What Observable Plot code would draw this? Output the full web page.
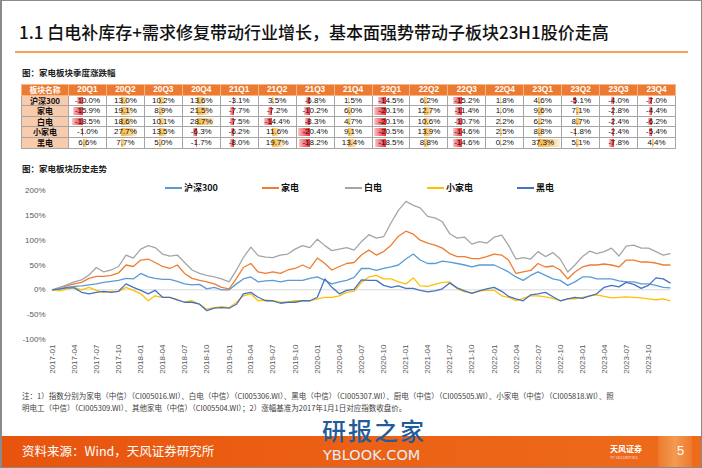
<!DOCTYPE html>
<html><head><meta charset="utf-8">
<script src="https://cdn.jsdelivr.net/npm/d3@7"></script>
<script src="https://cdn.jsdelivr.net/npm/@observablehq/plot@0.6"></script>
<style>
html,body{margin:0;padding:0;background:#fff;}
#page{position:relative;width:702px;height:468px;overflow:hidden;font-family:"Noto Sans CJK SC","Noto Sans",sans-serif;background:#fff;}
.abs{position:absolute;white-space:nowrap;}
#frame{position:absolute;left:0;top:0;width:702px;height:468px;box-sizing:border-box;border:1px solid #8a8a8a;border-left-width:2px;pointer-events:none;}
#title{left:19px;top:22px;font-size:17px;line-height:20px;font-weight:500;color:#111;}
#rule{left:15px;top:51px;width:673px;height:2px;background:#F4A15D;}
.cap{font-size:8.5px;line-height:10px;font-weight:bold;color:#222;}
#tbl{position:absolute;left:21px;top:84px;border-collapse:collapse;table-layout:fixed;width:654px;font-family:"Liberation Sans",Arial,sans-serif;}
#tbl td{border:1px solid #a6a6a6;padding:0;}
#tbl .c{position:relative;height:9.6px;line-height:9.8px;font-size:8px;text-align:center;color:#111;}
#tbl .c span{position:relative;z-index:2;}
#tbl tr.hdr td{background:#EC7A31;border-color:#f3b58a;}
#tbl tr.hdr .c{color:#fff;font-weight:bold;font-size:8.3px;}
#tbl td.rowh{background:#F8CBAD;}
#tbl td.rowh .c{font-weight:bold;font-family:"Noto Sans CJK SC",sans-serif;font-size:8px;line-height:9.6px;}
#tbl tr.hdr td.first .c{font-family:"Noto Sans CJK SC",sans-serif;font-size:7.8px;line-height:9.6px;}
.bar{position:absolute;top:1px;bottom:1px;z-index:1;}
#legend{left:0;top:182px;height:12px;width:702px;}
.lg{position:absolute;top:0;height:12px;font-size:9px;line-height:12px;font-weight:bold;color:#111;white-space:nowrap;}
.lg i{position:absolute;left:0;top:5px;width:17px;height:2px;}
.lg b{position:absolute;left:19px;top:0;font-weight:bold;}
#chart{left:0;top:183px;}
.note{font-size:7.5px;line-height:9px;color:#404040;}
#footer{left:0;top:436px;width:702px;height:32px;background:linear-gradient(to right,#E8540E,#EC6316 60%,#EE6B1B);}
#pgblock{left:658px;top:436px;width:34px;height:32px;background:linear-gradient(to right,#EE7A2C,#F39A52,#EE7A2C);}
#src{left:22px;top:443px;font-size:12.5px;line-height:16px;color:#fff;}
#pg{left:677px;top:443px;font-size:13px;line-height:16px;color:#fff;font-family:"Liberation Sans",Arial,sans-serif;}
#logo{left:610px;top:444px;font-size:8px;line-height:10px;color:#fff;font-weight:bold;}
#logo2{left:610px;top:455px;font-size:4px;line-height:5px;color:#fde;}
#wm1{left:322px;top:418px;font-size:24px;line-height:24px;color:#1F5C99;font-weight:500;letter-spacing:2px;}
#wm2{left:323px;top:448px;font-size:14.5px;line-height:14px;color:#e6eef8;font-family:"DejaVu Sans",sans-serif;}
</style></head>
<body>
<div id="page">
  <div id="title" class="abs">1.1 白电补库存+需求修复带动行业增长，基本面强势带动子板块23H1股价走高</div>
  <div id="rule" class="abs"></div>
  <div class="abs cap" style="left:22px;top:67px;">图：家电板块季度涨跌幅</div>
  <table id="tbl"></table>
  <div class="abs cap" style="left:22px;top:163px;">图：家电板块历史走势</div>
  <div id="chart" class="abs"></div>
  <div id="legend" class="abs"></div>
  <div class="abs note" style="left:22px;top:390.5px;">注：1）指数分别为家电（中信）（CI005016.WI）、白电（中信）（CI005306.WI）、黑电（中信）（CI005307.WI）、厨电（中信）（CI005505.WI）、小家电（中信）（CI005818.WI）、照</div>
  <div class="abs note" style="left:22px;top:402.5px;">明电工（中信）（CI005309.WI）、其他家电（中信）（CI005504.WI）；2）涨幅基准为2017年1月1日对应指数收盘价。</div>
  <div id="footer" class="abs"></div>
  <div id="pgblock" class="abs"></div>
  <div id="src" class="abs">资料来源：Wind，天风证券研究所</div>
  <div id="wm1" class="abs">研报之家</div>
  <div id="wm2" class="abs">YBLOOK.COM</div>
  <div id="logo" class="abs">天风证券</div>
  <div id="logo2" class="abs">TF SECURITIES</div>
  <div id="pg" class="abs">5</div>
  <div id="frame"></div>
</div>
<script>
// ---------- Table data (quarterly change, %) ----------
const quarters = ["20Q1","20Q2","20Q3","20Q4","21Q1","21Q2","21Q3","21Q4","22Q1","22Q2","22Q3","22Q4","23Q1","23Q2","23Q3","23Q4"];
const tableRowNames = ["沪深300","家电","白电","小家电","黑电"];
const qHS300      = [-10.0,13.0,10.2,13.6,-3.1,3.5,-6.8,1.5,-14.5,6.2,-15.2,1.8,4.6,-5.1,-4.0,-7.0];
const qJiadian    = [-15.9,19.1,8.9,21.5,-7.7,-7.2,-10.2,6.0,-20.1,12.7,-11.4,1.0,9.6,7.1,-2.8,-4.4];
const qBaidian    = [-18.5,18.6,10.1,28.7,-7.5,-14.4,-8.3,4.7,-20.1,10.6,-10.7,2.2,6.2,8.7,-2.4,-6.2];
const qXiaojiadian= [-1.0,27.7,13.5,-6.3,-6.2,11.6,-20.4,9.1,-20.5,13.9,-14.6,2.5,8.8,-1.8,-2.4,-5.4];
const qHeidian    = [6.6,7.7,5.0,-1.7,-8.0,19.7,-18.2,13.4,-18.5,8.8,-14.6,0.2,37.3,5.1,-7.8,4.4];

// ---------- Line chart data (cumulative change vs 2017-01-01, %, monthly readings) ----------
const seriesNames  = ["沪深300","家电","白电","小家电","黑电"];
const seriesColors = ["#5B9BD5","#ED7D31","#A5A5A5","#FFC000","#4472C4"];
const hs300 = [0,2,5,7,8,10,12,15,17,19,23,22,33,26,23,21,21,17,12,10,11,2,5,0,0,12,22,26,16,18,19,16,19,19,19,23,26,19,12,16,19,
  25,43,43,39,43,46,50,62,72,60,53,53,58,56,53,50,46,50,50,50,43,36,26,19,29,36,29,22,19,9,16,26,26,22,22,22,18,16,16,12,12,9,5,4];
const jiadian = [0,5,8,12,15,23,27,27,29,34,50,47,60,62,55,47,43,50,33,23,19,16,12,5,2,23,45,53,36,33,36,33,40,43,50,43,64,53,40,47,53,
  55,70,80,70,77,90,108,118,112,100,94,90,84,73,67,67,63,63,67,72,70,60,33,36,39,53,46,48,40,22,36,46,50,50,52,50,46,60,60,56,56,54,50,50];
const baidian = [0,5,10,16,20,30,45,36,40,47,70,64,82,89,85,72,68,70,55,40,33,29,26,22,16,40,65,86,69,66,65,70,72,82,89,85,102,89,79,82,85,
  80,97,111,104,107,135,160,178,170,165,148,145,137,113,104,106,92,97,94,106,110,90,62,65,62,77,67,75,62,36,50,67,78,73,77,84,68,88,90,84,84,77,70,73];
const xiaojiadian = [0,-2,2,5,0,5,-1,-5,-3,-3,5,-1,-8,-22,-12,-15,-15,-20,-25,-22,-29,-39,-36,-34,-36,-25,-12,-8,-22,-21,-22,-25,-25,-22,-22,-22,-18,-15,-15,-12,-5,
  -3,15,26,29,22,22,16,12,24,8,7,11,15,16,2,-4,-6,-2,-1,-1,-12,-15,-22,-17,-12,-12,-14,-17,-22,-18,-18,-15,-12,-10,-13,-16,-15,-14,-15,-16,-18,-20,-18,-22];
const heidian = [0,2,4,4,-5,-8,-5,-3,-5,-3,12,5,-1,-8,-1,-15,-15,-20,-25,-25,-29,-42,-37,-36,-37,-29,-8,-5,-15,-22,-22,-27,-25,-25,-22,-22,-15,22,5,-8,-1,
  1,20,19,19,9,5,8,3,3,-1,-4,-2,2,14,4,-2,-7,-2,2,5,-3,-13,-18,-22,-10,-8,-5,-14,-22,-18,-15,-17,-12,-8,5,9,6,15,11,3,9,24,22,14];
const xTickLabels = ["2017-01","2017-04","2017-07","2017-10","2018-01","2018-04","2018-07","2018-10","2019-01","2019-04","2019-07","2019-10",
  "2020-01","2020-04","2020-07","2020-10","2021-01","2021-04","2021-07","2021-10","2022-01","2022-04","2022-07","2022-10","2023-01","2023-04","2023-07","2023-10"];
const yTicks = [-100,-50,0,50,100,150,200];

// ---------- Table ----------
const tableVals = [qHS300,qJiadian,qBaidian,qXiaojiadian,qHeidian];
const firstW = 47, colW = (654 - firstW) / quarters.length;
const bx = d3.scaleLinear().domain(d3.extent(tableVals.flat())).range([1.5, colW - 2]);
const tbl = d3.select("#tbl");
const cg = tbl.append("colgroup");
cg.append("col").style("width", firstW + "px");
quarters.forEach(() => cg.append("col").style("width", colW + "px"));
const hr = tbl.append("tr").attr("class","hdr");
hr.append("td").attr("class","first").append("div").attr("class","c").text("板块名称");
quarters.forEach(q => hr.append("td").append("div").attr("class","c").text(q));
tableRowNames.forEach((name, r) => {
  const tr = tbl.append("tr");
  tr.append("td").attr("class","rowh").append("div").attr("class","c").text(name);
  tableVals[r].forEach(v => {
    const c = tr.append("td").append("div").attr("class","c");
    const x0 = bx(0), x1 = bx(v);
    c.append("div").attr("class","bar")
      .style("left", Math.min(x0,x1) + "px")
      .style("width", Math.abs(x1 - x0) + "px")
      .style("background", v < 0
        ? "linear-gradient(to left,#EE2A30,#F7A9AC 85%,#FAD0D2)"
        : "linear-gradient(to right,#F6B23E,#FAD38C 60%,#FDF1DC)");
    c.append("span").text(v.toFixed(1) + "%");
  });
});

// ---------- Line chart ----------
const dates = d3.utcMonth.range(new Date("2017-01-01"), new Date("2024-01-01"));
dates.push(new Date("2023-12-29"));
const seriesValues = [hs300, jiadian, baidian, xiaojiadian, heidian];
const lineData = seriesNames.flatMap((name, i) =>
  seriesValues[i].map((v, j) => ({date: dates[j], value: v, series: name})));

const chart = Plot.plot({
  width: 702, height: 195,
  marginLeft: 52, marginRight: 32, marginTop: 7, marginBottom: 39,
  style: {fontFamily: '"Liberation Sans", Arial, sans-serif', fontSize: "8px", color: "#595959", background: "transparent", overflow: "visible"},
  x: {type: "utc", domain: [new Date("2017-01-01"), new Date("2023-12-31")],
      ticks: xTickLabels.map(s => new Date(s + "-01")), tickFormat: d3.utcFormat("%Y-%m"),
      tickRotate: -90, tickSize: 0, tickPadding: 5, label: null},
  y: {domain: [-100, 200], ticks: yTicks, tickFormat: d => d + "%", tickSize: 0, tickPadding: 7, label: null},
  color: {domain: seriesNames, range: seriesColors},
  marks: [
    Plot.ruleY([0], {stroke: "#d9d9d9", strokeWidth: 1}),
    Plot.lineY(lineData, {x: "date", y: "value", stroke: "series", strokeWidth: 1.3})
  ]
});
document.getElementById("chart").appendChild(chart);

// ---------- Legend ----------
const legendX = [165, 262, 345, 427, 517];
const lg = d3.select("#legend");
seriesNames.forEach((name, i) => {
  const it = lg.append("div").attr("class","lg").style("left", legendX[i] + "px");
  it.append("i").style("background", seriesColors[i]);
  it.append("b").text(name);
});
</script>
</body></html>
